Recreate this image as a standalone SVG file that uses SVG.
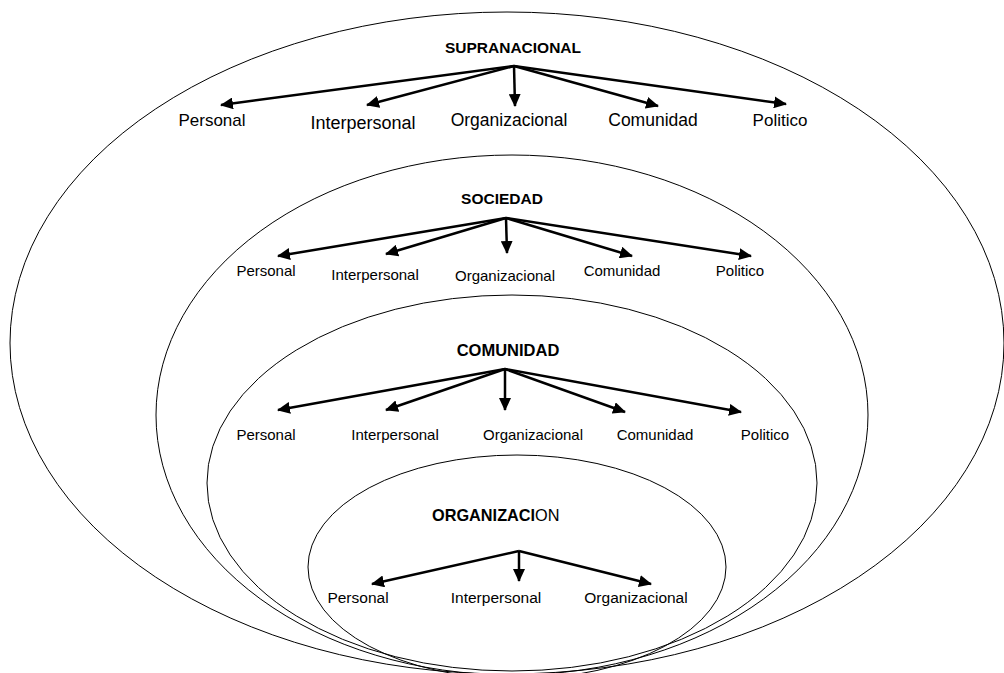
<svg xmlns="http://www.w3.org/2000/svg" width="1004" height="673" viewBox="0 0 1004 673">
<style>
.e{fill:none;stroke:#000;stroke-width:1}
.a{stroke:#000;stroke-width:2.5;fill:none;marker-end:url(#ah)}
.t{font-family:"Liberation Sans",Arial,sans-serif;font-weight:bold;fill:#000;text-anchor:middle}
.l{font-family:"Liberation Sans",Arial,sans-serif;fill:#000;text-anchor:middle}
</style>
<defs>
<marker id="ah" markerUnits="userSpaceOnUse" markerWidth="14" markerHeight="12" refX="12" refY="6" orient="auto">
<path d="M0,0 L13,6 L0,12 Z" fill="#000"/>
</marker>
</defs>
<rect width="1004" height="673" fill="#fff"/>
<g id="supranacional">
<ellipse class="e" cx="507" cy="343" rx="497" ry="331"/>
<text class="t" x="513" y="53" font-size="15.5">SUPRANACIONAL</text>
<text class="l" x="212" y="126" font-size="17">Personal</text>
<text class="l" x="363" y="129" font-size="18">Interpersonal</text>
<text class="l" x="509" y="126" font-size="17.5">Organizacional</text>
<text class="l" x="653" y="126" font-size="17.5">Comunidad</text>
<text class="l" x="780" y="126" font-size="17">Politico</text>
</g>
<g id="sociedad">
<ellipse class="e" cx="512" cy="415" rx="356" ry="260"/>
<text class="t" x="502" y="204" font-size="15.5">SOCIEDAD</text>
<text class="l" x="266" y="276" font-size="15">Personal</text>
<text class="l" x="375" y="280" font-size="15">Interpersonal</text>
<text class="l" x="505" y="281" font-size="15">Organizacional</text>
<text class="l" x="622" y="276" font-size="15">Comunidad</text>
<text class="l" x="740" y="276" font-size="15">Politico</text>
</g>
<g id="comunidad">
<ellipse class="e" cx="512" cy="483" rx="305" ry="188"/>
<text class="t" x="508" y="356" font-size="16.5">COMUNIDAD</text>
<text class="l" x="266" y="440" font-size="15">Personal</text>
<text class="l" x="395" y="440" font-size="15">Interpersonal</text>
<text class="l" x="533" y="440" font-size="15">Organizacional</text>
<text class="l" x="655" y="440" font-size="15">Comunidad</text>
<text class="l" x="765" y="440" font-size="15">Politico</text>
</g>
<g id="organizacion">
<ellipse class="e" cx="517" cy="567" rx="209" ry="112"/>
<text class="l" x="432" y="521" font-size="16.3" style="text-anchor:start"><tspan font-weight="bold">ORGANIZACI</tspan>ON</text>
<text class="l" x="358" y="603" font-size="15.5">Personal</text>
<text class="l" x="496" y="603" font-size="15.5">Interpersonal</text>
<text class="l" x="636" y="603" font-size="15.5">Organizacional</text>
</g>
<g id="connectors">
<line class="a" x1="514" y1="66" x2="221" y2="105"/>
<line class="a" x1="514" y1="66" x2="367" y2="105"/>
<line class="a" x1="514" y1="66" x2="515" y2="106"/>
<line class="a" x1="514" y1="66" x2="658" y2="106"/>
<line class="a" x1="514" y1="66" x2="786" y2="104"/>
<line class="a" x1="506" y1="218" x2="278" y2="256"/>
<line class="a" x1="506" y1="218" x2="386" y2="254"/>
<line class="a" x1="506" y1="218" x2="507" y2="253"/>
<line class="a" x1="506" y1="218" x2="632" y2="256"/>
<line class="a" x1="506" y1="218" x2="751" y2="256"/>
<line class="a" x1="505" y1="369" x2="278" y2="410"/>
<line class="a" x1="505" y1="369" x2="386" y2="410"/>
<line class="a" x1="505" y1="369" x2="505" y2="410"/>
<line class="a" x1="505" y1="369" x2="625" y2="412"/>
<line class="a" x1="505" y1="369" x2="741" y2="412"/>
<line class="a" x1="519" y1="551" x2="372" y2="584"/>
<line class="a" x1="519" y1="551" x2="519" y2="581"/>
<line class="a" x1="519" y1="551" x2="651" y2="584"/>
</g>
</svg>
